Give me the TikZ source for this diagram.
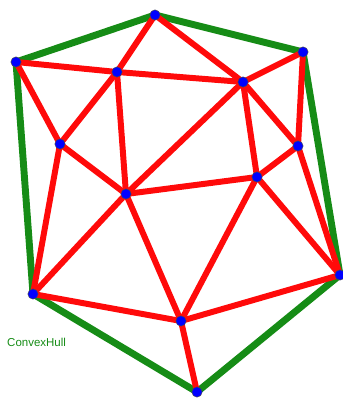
\documentclass[tikz,border=0pt]{standalone}
\usepackage{fontspec}
\setsansfont{Liberation Sans}
\usepackage{tikz}
\usetikzlibrary{positioning}

\definecolor{hullgreen}{RGB}{22,140,22}
\definecolor{edgered}{RGB}{255,10,10}

\begin{document}
\begin{tikzpicture}[
    x=0.03cm, y=-0.03cm,
    hull/.style={line width=5.9pt, hullgreen, line join=round, line cap=round},
    edge/.style={line width=5.1pt, edgered, line cap=round},
    vertex/.style={circle, fill=blue, draw=black!70, thin, inner sep=0pt, minimum size=0.31cm}
  ]
    \useasboundingbox (0,0) rectangle (343,399);
    % points
    \coordinate (A) at (155,15);
    \coordinate (B) at (16,62);
    \coordinate (C) at (117,72);
    \coordinate (D) at (243,82);
    \coordinate (E) at (303,52);
    \coordinate (F) at (60,144);
    \coordinate (G) at (298,146);
    \coordinate (H) at (126,194);
    \coordinate (I) at (257,177);
    \coordinate (J) at (340,275);
    \coordinate (K) at (33,294);
    \coordinate (L) at (181,321);
    \coordinate (M) at (197,392);
    % convex hull
    \draw[hull] (A) -- (E) -- (J) -- (M) -- (K) -- (B) -- cycle;
    % triangulation
    \foreach \p/\q in {A/C, A/D, B/C, B/F, C/D, C/F, C/H, D/E, D/G, D/H, D/I,
                       E/G, F/H, F/K, G/I, G/J, H/I, H/K, H/L, I/J, I/L,
                       J/L, K/L, L/M}
      \draw[edge] (\p) -- (\q);
    % vertices
    \foreach \p in {A,B,C,D,E,F,G,H,I,J,K,L,M}
      \node[vertex] (v\p) at (\p) {};
    \node[font=\sffamily\fontsize{9.8}{12}\selectfont, text=hullgreen, anchor=west, inner sep=0pt] (hulllabel) at (7,342) {ConvexHull};
\end{tikzpicture}
\end{document}
